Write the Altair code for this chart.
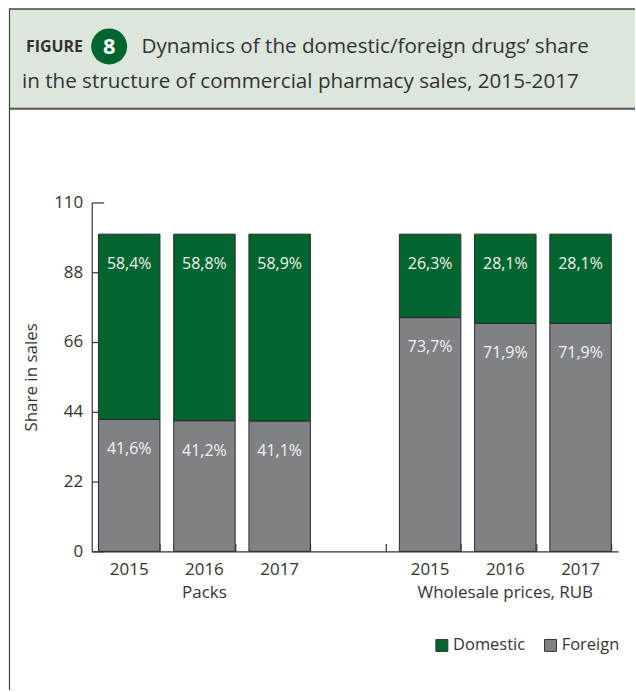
import altair as alt
import pandas as pd

# ---- data ----
groups = ["Packs", "Wholesale prices, RUB"]
years = ["2015", "2016", "2017"]
series = ["Domestic", "Foreign"]
domestic_packs = [58.4, 58.8, 58.9]
foreign_packs = [41.6, 41.2, 41.1]
domestic_wholesale = [26.3, 28.1, 28.1]
foreign_wholesale = [73.7, 71.9, 71.9]
y_ticks = [0, 22, 44, 66, 88, 110]

figure_word = "FIGURE"
figure_number = "8"
title_line1 = "Dynamics of the domestic/foreign drugs\u2019 share"
title_line2 = "in the structure of commercial pharmacy sales, 2015-2017"
y_title = "Share in sales"

GREEN = "#00652f"
GRAY = "#808184"
TEXT = "#333333"
FONT = "Open Sans"


def fmt(v):
    return f"{v:.1f}".replace(".", ",") + "%"


rows = []
for g, dom, forn in [(groups[0], domestic_packs, foreign_packs),
                     (groups[1], domestic_wholesale, foreign_wholesale)]:
    for yr, d, f in zip(years, dom, forn):
        slot = f"{g}|{yr}"
        rows.append(dict(slot=slot, series="Foreign", value=f, order=0, top=f, label=fmt(f)))
        rows.append(dict(slot=slot, series="Domestic", value=d, order=1, top=f + d, label=fmt(d)))
df = pd.DataFrame(rows)

slots = [f"{groups[0]}|{y}" for y in years] + ["gap"] + [f"{groups[1]}|{y}" for y in years]

W, H = 528, 350

label_expr = (
    "datum.value == 'gap' ? '' : "
    "(split(datum.value, '|')[1] == '2016' ? "
    "[split(datum.value, '|')[1], split(datum.value, '|')[0]] : split(datum.value, '|')[1])"
)

xscale = alt.Scale(domain=slots, paddingInner=0.183, paddingOuter=0.09)
yscale = alt.Scale(domain=[0, 110], nice=False)

bars = alt.Chart(df).mark_bar(stroke="#2b2b2b", strokeWidth=1, opacity=1).encode(
    x=alt.X("slot:N", scale=xscale, sort=slots,
            axis=alt.Axis(orient="bottom", title=None, labelExpr=label_expr, ticks=False, tickSize=0,
                          labelPadding=10, labelAngle=0, labelFontSize=17, labelColor=TEXT,
                          domainColor=TEXT, domainWidth=1.2, labelLineHeight=23, labelOverlap=False,
                          labelBound=False, labelFont=FONT)),
    y=alt.Y("value:Q", stack="zero", scale=yscale,
            axis=alt.Axis(orient="left", values=y_ticks, title=y_title, ticks=False, tickSize=0,
                          labelPadding=9, grid=False, labelFontSize=17, labelColor=TEXT,
                          domainColor=TEXT, domainWidth=1.2, titleFontSize=17, titleFontWeight="normal",
                          titleColor=TEXT, titlePadding=13, labelFont=FONT, titleFont=FONT)),
    color=alt.Color("series:N", scale=alt.Scale(domain=series, range=[GREEN, GRAY]),
                    legend=alt.Legend(orient="none", legendX=343, legendY=436, direction="horizontal",
                                      title=None, symbolType="square", symbolSize=144,
                                      symbolStrokeColor="#333333", symbolStrokeWidth=1,
                                      labelFontSize=16.5, labelColor=TEXT, labelOffset=3,
                                      columnPadding=17, padding=0, labelFont=FONT)),
    order=alt.Order("order:Q"),
)

labels = alt.Chart(df).mark_text(baseline="middle", dy=30, fontSize=16, color="#f2f2f2", font=FONT).encode(
    x=alt.X("slot:N", scale=xscale, sort=slots,
            axis=alt.Axis(orient="top", offset=-H, labels=False, domain=False, ticks=True, tickSize=8,
                          tickBand="extent", tickColor=TEXT, tickWidth=1.2, title=None, grid=False)),
    y=alt.Y("top:Q", scale=yscale,
            axis=alt.Axis(orient="right", offset=-W, labels=False, domain=False, ticks=True, tickSize=12,
                          values=y_ticks, tickColor=TEXT, tickWidth=1.2, title=None, grid=False)),
    text="label:N",
)

one = pd.DataFrame({"k": [0]})

header_fill = alt.Chart(one).mark_rect(color="#dce6dc").encode(
    x=alt.value(-83), x2=alt.value(545), y=alt.value(-194), y2=alt.value(-94))
top_rule = alt.Chart(one).mark_rule(color="#444444", strokeWidth=1.5).encode(
    x=alt.value(-83), x2=alt.value(545), y=alt.value(-194))
header_bottom = alt.Chart(one).mark_rule(color="#555555", strokeWidth=2).encode(
    x=alt.value(-83), x2=alt.value(545), y=alt.value(-94))
left_rule = alt.Chart(one).mark_rule(color="#444444", strokeWidth=1.2).encode(
    x=alt.value(-82.5), y=alt.value(-194), y2=alt.value(489))

badge = alt.Chart(one).mark_point(filled=True, shape="circle", size=1300, color=GREEN, opacity=1).encode(
    x=alt.value(17.5), y=alt.value(-156.5))
badge_num = alt.Chart(one).mark_text(fontSize=22, fontWeight="bold", color="white", font=FONT,
                                     align="center", baseline="middle").encode(
    x=alt.value(17.5), y=alt.value(-156), text=alt.value(figure_number))
fig_word = alt.Chart(one).mark_text(fontSize=16, fontWeight="bold", color=TEXT, font=FONT,
                                    align="left", baseline="alphabetic").encode(
    x=alt.value(-66), y=alt.value(-151), text=alt.value(figure_word))
t1 = alt.Chart(one).mark_text(fontSize=20.7, color=TEXT, font=FONT, align="left",
                              baseline="alphabetic").encode(
    x=alt.value(50), y=alt.value(-150), text=alt.value(title_line1))
t2 = alt.Chart(one).mark_text(fontSize=20.7, color=TEXT, font=FONT, align="left",
                              baseline="alphabetic").encode(
    x=alt.value(-70), y=alt.value(-115), text=alt.value(title_line2))

chart = alt.layer(
    header_fill, top_rule, header_bottom, left_rule, badge, badge_num, fig_word, t1, t2, bars, labels
).resolve_axis(x="independent", y="independent").properties(
    width=W, height=H, padding={"left": 8, "top": 7, "right": 0, "bottom": 0}
).configure(font=FONT).configure_view(stroke=None)

chart.save("out.html", embed_options={"renderer": "svg", "actions": False})
